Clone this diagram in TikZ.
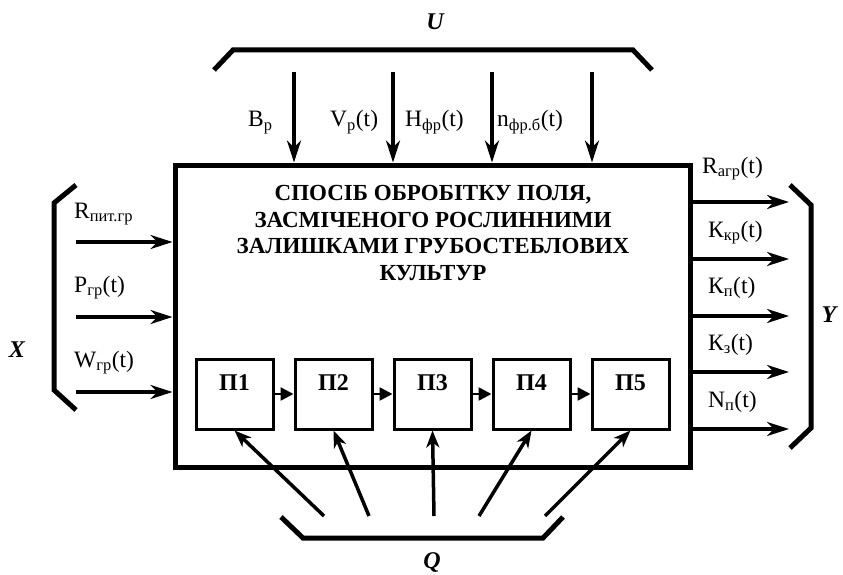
\documentclass[tikz,border=0pt]{standalone}
\usepackage{fontspec}
\setmainfont{Liberation Serif}
\usetikzlibrary{arrows.meta,positioning}
\begin{document}
\begin{tikzpicture}[x=1pt, y=-1pt,
  sig/.style={line width=3.5pt, -{Stealth[length=22pt,width=14pt,inset=7pt]}},
  rise/.style={line width=3.5pt, -{Stealth[length=17pt,width=13pt,inset=5pt]}},
  brk/.style={line width=5pt, line join=miter},
  lbl/.style={anchor=base west, inner sep=0pt, font=\fontsize{23.5}{28}\selectfont},
  var/.style={anchor=base, inner sep=0pt, font=\fontsize{24}{28}\selectfont\bfseries\itshape},
  pbox/.style={draw, line width=3pt, minimum width=77pt, minimum height=70pt, inner sep=0pt,
    text height=16pt, text depth=23pt, font=\fontsize{24}{28}\selectfont\bfseries},
  link/.style={line width=2.5pt, -{Triangle[length=13pt,width=13pt]}}]
  \useasboundingbox (0,0) rectangle (843,575);
  % main block
  \node[draw, line width=5pt, minimum width=515pt, minimum height=302pt] (sys) at (432.5,316) {};
  \node[align=center, font=\fontsize{23}{26.5}\selectfont\bfseries] (title) at (433,233)
    {СПОСІБ ОБРОБІТКУ ПОЛЯ,\\ЗАСМІЧЕНОГО РОСЛИННИМИ\\ЗАЛИШКАМИ ГРУБОСТЕБЛОВИХ\\КУЛЬТУР};
  % stages
  \node[pbox] (p1) at (234.5,394) {П1};
  \node[pbox, right=19pt of p1] (p2) {П2};
  \node[pbox, right=19pt of p2] (p3) {П3};
  \node[pbox, right=19pt of p3] (p4) {П4};
  \node[pbox, right=19pt of p4] (p5) {П5};
  \foreach \a/\b in {p1/p2,p2/p3,p3/p4,p4/p5}
    \draw[link] (\a.east) -- (\b.west);
  % U
  \draw[brk] (214,70) -- (233,50) -- (633,50) -- (652,70);
  \node[var] (u) at (435,30) {U};
  \foreach \x/\n in {294/1,393/2,492/3,592/4} {
    \coordinate (u\n) at (\x,72);
    \draw[sig] (u\n) -- (u\n |- sys.north);
  }
  \node[lbl] (ub) at (248,127) {B\textsubscript{р}};
  \node[lbl] (uv) at (330,127) {V\textsubscript{р}(t)};
  \node[lbl] (uh) at (405,127) {H\textsubscript{фр}(t)};
  \node[lbl] (un) at (497,127) {n\textsubscript{фр.б}(t)};
  % X
  \draw[brk] (76,185) -- (54,203) -- (54,390) -- (76,410);
  \node[var] (x) at (17,357) {X};
  \foreach \y/\n in {242/1,317/2,392/3} {
    \coordinate (x\n) at (76,\y);
    \draw[sig] (x\n) -- (x\n -| sys.west);
  }
  \node[lbl] (xr) at (74,218) {R\textsubscript{пит.гр}};
  \node[lbl] (xp) at (74,292) {P\textsubscript{гр}(t)};
  \node[lbl] (xw) at (74,367) {W\textsubscript{гр}(t)};
  % Y
  \draw[brk] (790,185) -- (811,205) -- (811,428) -- (790,448);
  \node[var] (y) at (829,322) {Y};
  \foreach \y/\n in {202/1,259/2,316/3,372/4,429/5} {
    \coordinate (y\n) at (789,\y);
    \draw[sig] (y\n -| sys.east) -- (y\n);
  }
  \node[lbl] (yr) at (702,173) {R\textsubscript{агр}(t)};
  \node[lbl] (yk1) at (708,237) {К\textsubscript{кр}(t)};
  \node[lbl] (yk2) at (708,293) {К\textsubscript{п}(t)};
  \node[lbl] (yk3) at (708,350) {К\textsubscript{з}(t)};
  \node[lbl] (yn) at (708,407) {N\textsubscript{п}(t)};
  % Q
  \draw[brk] (281,517) -- (303,538) -- (543,538) -- (563,517);
  \node[var] (q) at (432,568) {Q};
  \foreach \x/\n in {324/1,369/2,434/3,479/4,545/5} {
    \coordinate (q\n) at (\x,516);
    \draw[rise] (q\n) -- (p\n.south);
  }
\end{tikzpicture}
\end{document}
